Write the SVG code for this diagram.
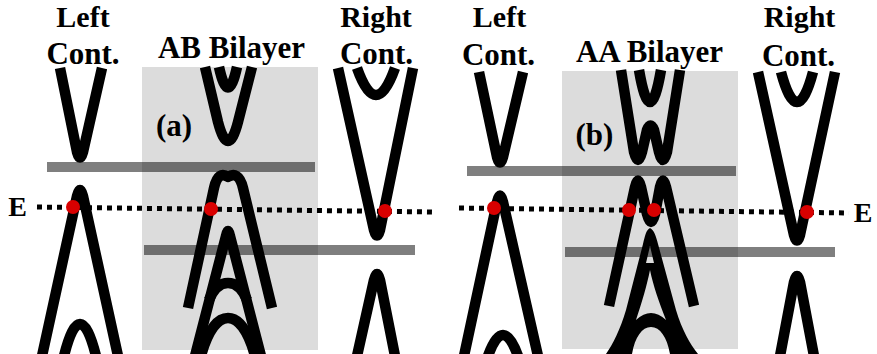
<svg xmlns="http://www.w3.org/2000/svg" width="877" height="354" viewBox="0 0 877 354">
  <style>
    .band { fill: none; stroke: #000; stroke-width: 10.5; stroke-linecap: butt; stroke-linejoin: round; }
    .solid { fill: #000; fill-rule: evenodd; stroke: none; }
    .gate { fill: #000; fill-opacity: 0.5; }
    .energy { fill: none; stroke: #000; stroke-width: 5; stroke-dasharray: 5 5; }
    .dot { fill: #d90000; }
    .region { fill: #dcdcdc; }
    .label { font-family: "Liberation Serif", "Times New Roman", serif; font-weight: bold; font-size: 31px; text-anchor: middle; fill: #000; }
    .top { font-size: 30px; }
    .elabel { font-size: 28px; }
  </style>

  <!-- Panel (a): AB bilayer between two contacts -->
  <g id="panel-a">
    <rect class="region" x="142" y="67" width="176" height="283"/>

    <g id="a-left-contact">
      <path class="band" d="M60,68 L77,152 Q80,163 83,152 L102,68"/>
      <path class="band" d="M42,356 L77,196 Q80,184 83,196 L118,356"/>
      <path class="band" d="M64,356 Q80,292 96,356"/>
    </g>

    <g id="a-bilayer">
      <path class="band" d="M205,67 L218,122 Q228,160 238,122 L252,67"/>
      <path class="band" d="M219,67 Q228,108 237,67"/>
      <path class="band" d="M188,308 L214,188 C217,175 222,173 228,177 C234,173 240,175 243,188 L272,308"/>
      <path class="band" d="M195,356 L226,236 Q228,226 230,236 L261,356"/>
      <path class="band" d="M209,300 C214,288 220,283 228,283 C236,283 242,288 247,300"/>
      <path class="band" d="M201,356 C208,330 218,318 228,318 C238,318 248,330 255,356"/>
    </g>

    <g id="a-right-contact">
      <path class="band" d="M338,68 L374,230 Q377,241 380,230 L413,68"/>
      <path class="band" d="M357,68 Q376,122 395,68"/>
      <path class="band" d="M357,356 L374,280 Q377,268 380,280 L395,356"/>
    </g>

    <rect class="gate" x="47" y="162" width="268" height="10"/>
    <rect class="gate" x="144" y="245" width="271" height="10"/>

    <line class="energy" x1="37" y1="207" x2="432" y2="212"/>
    <circle class="dot" cx="73" cy="207" r="7"/>
    <circle class="dot" cx="211" cy="209" r="7"/>
    <circle class="dot" cx="385" cy="211" r="7"/>

    <text class="label top" x="83" y="27">Left</text>
    <text class="label" x="83" y="64">Cont.</text>
    <text class="label" x="231.5" y="58">AB Bilayer</text>
    <text class="label top" x="376" y="27">Right</text>
    <text class="label" x="376.5" y="64">Cont.</text>
    <text class="label" x="174" y="136">(a)</text>
    <text class="label elabel" x="17.5" y="216">E</text>
  </g>

  <!-- Panel (b): AA bilayer between two contacts -->
  <g id="panel-b">
    <rect class="region" x="562" y="71" width="176" height="278"/>

    <g id="b-left-contact">
      <path class="band" d="M479,72 L497,157 Q500,168 503,157 L523,72"/>
      <path class="band" d="M464,356 L497,202 Q500,189 503,202 L538,356"/>
      <path class="band" d="M488,356 Q503,314 518,356"/>
    </g>

    <g id="b-bilayer">
      <path class="band" d="M621,70 L634,152 Q638,168 642,152 L647,130 Q650.5,121 654,130 L659,152 Q663,168 667,152 L680,70"/>
      <path class="band" d="M639,70 Q650,134 661,70"/>
      <path class="band" d="M609,306 L635,187 Q638,174 641,187 L647,214 Q651,230 655,214 L660,187 Q663,174 666,187 L694,306"/>
      <path class="solid" d="M650,228 C654,230 656,236 658,244 L676,310 C682,330 690,344 698,354 L606,354 C613,344 620,330 626,310 L643,244 C645,236 646,230 650,228 Z
        M650,246 L654,263 L646,263 Z
        M650,270 C647,285 642,302 636,320 Q651,306 666,320 C659,302 653,285 650,270 Z
        M632,354 C635,337 642,327 651,327 C660,327 667,337 670,354 Z"/>
    </g>

    <g id="b-right-contact">
      <path class="band" d="M758,72 L794,235 Q797,246 800,235 L835,72"/>
      <path class="band" d="M781,72 Q797,132 813,72"/>
      <path class="band" d="M780,356 L794,282 Q797,270 800,282 L814,356"/>
    </g>

    <rect class="gate" x="467" y="166" width="269" height="10"/>
    <rect class="gate" x="565" y="247" width="270" height="10"/>

    <line class="energy" x1="459" y1="208" x2="849" y2="213"/>
    <circle class="dot" cx="494" cy="208" r="7"/>
    <circle class="dot" cx="629" cy="210" r="7"/>
    <circle class="dot" cx="654" cy="210" r="7"/>
    <circle class="dot" cx="807" cy="212" r="7"/>

    <text class="label top" x="499.5" y="27">Left</text>
    <text class="label" x="498.5" y="65">Cont.</text>
    <text class="label" x="649.5" y="62">AA Bilayer</text>
    <text class="label top" x="799.5" y="27">Right</text>
    <text class="label" x="798.5" y="66">Cont.</text>
    <text class="label" x="594.5" y="145">(b)</text>
    <text class="label elabel" x="863" y="222">E</text>
  </g>
</svg>
